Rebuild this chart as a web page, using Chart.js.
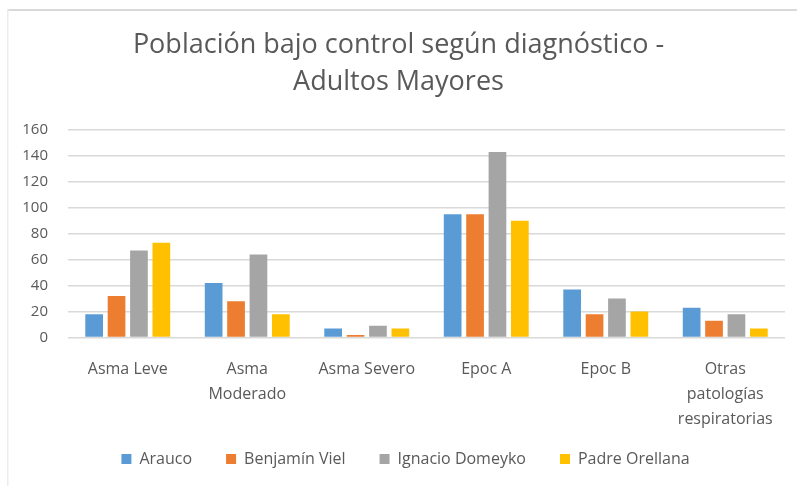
<!DOCTYPE html>
<html>
<head>
<meta charset="utf-8">
<script src="https://cdn.jsdelivr.net/npm/chart.js@4/dist/chart.umd.min.js"></script>
<style>
  html, body { margin: 0; padding: 0; background: #ffffff; }
  #wrap { width: 797px; height: 486px; position: relative; }
</style>
</head>
<body>
<div id="wrap"><canvas id="c" width="797" height="486"></canvas></div>
<script>
// Diagnoses (x axis) and patients under control per health centre
const categories = [
  ['Asma Leve'],
  ['Asma', 'Moderado'],
  ['Asma Severo'],
  ['Epoc A'],
  ['Epoc B'],
  ['Otras', 'patologías', 'respiratorias']
];
const arauco          = [18, 42, 7, 95, 37, 23];
const benjaminViel    = [32, 28, 2, 95, 18, 13];
const ignacioDomeyko  = [67, 64, 9, 143, 30, 18];
const padreOrellana   = [73, 18, 7, 90, 20, 7];
const yTicks = [0, 20, 40, 60, 80, 100, 120, 140, 160];

const FONT = '"Open Sans", Lato, sans-serif';
const TEXT = '#595959';

// Thin frame along the top and left edges of the chart
const framePlugin = {
  id: 'frame',
  beforeDraw(chart) {
    const ctx = chart.ctx;
    ctx.save();
    ctx.fillStyle = '#d9d9d9';
    ctx.fillRect(7, 9, chart.width - 7, 2);
    ctx.fillStyle = '#ececec';
    ctx.fillRect(7, 9, 1.5, chart.height - 9);
    ctx.restore();
  }
};

// Pull the legend row up a little, closer to the category labels
const legendLift = {
  id: 'legendLift',
  afterLayout(chart) {
    const lg = chart.legend;
    if (lg) {
      lg.top -= 15.5; lg.bottom -= 15.5;
      lg.left += 7; lg.right += 7;
    }
  }
};

new Chart(document.getElementById('c'), {
  type: 'bar',
  data: {
    labels: categories,
    datasets: [
      { label: 'Arauco',          data: arauco,         backgroundColor: '#5B9BD5' },
      { label: 'Benjamín Viel',   data: benjaminViel,   backgroundColor: '#ED7D31' },
      { label: 'Ignacio Domeyko', data: ignacioDomeyko, backgroundColor: '#A5A5A5' },
      { label: 'Padre Orellana',  data: padreOrellana,  backgroundColor: '#FFC000' }
    ]
  },
  plugins: [framePlugin, legendLift],
  options: {
    responsive: false,
    animation: false,
    devicePixelRatio: 1,
    layout: { padding: { left: 12, right: 12, top: 0, bottom: 0 } },
    datasets: { bar: { categoryPercentage: 0.75, barPercentage: 0.79 } },
    plugins: {
      title: {
        display: true,
        text: ['Población bajo control según diagnóstico -', 'Adultos Mayores'],
        color: TEXT,
        font: { family: FONT, size: 27, weight: 'normal', lineHeight: 1.37 },
        padding: { top: 26.5, bottom: 29.5 }
      },
      legend: {
        position: 'bottom',
        maxHeight: 53.5,
        labels: {
          color: TEXT,
          font: { family: FONT, size: 16 },
          boxWidth: 10,
          boxHeight: 10,
          padding: 34
        }
      },
      tooltip: { enabled: false }
    },
    scales: {
      x: {
        afterFit: (axis) => { axis.height = 95; },
        grid: { display: false, drawTicks: false },
        border: { display: false },
        ticks: {
          color: TEXT,
          font: { family: FONT, size: 16, lineHeight: 1.5625 },
          maxRotation: 0,
          autoSkip: false,
          padding: 19.5
        }
      },
      y: {
        min: 0,
        max: 160,
        afterBuildTicks: (axis) => { axis.ticks = yTicks.map(v => ({ value: v })); },
        afterFit: (axis) => { axis.width = 56; },
        grid: { color: '#d9d9d9', lineWidth: 1.5, drawTicks: false },
        border: { display: false },
        ticks: {
          color: TEXT,
          font: { family: FONT, size: 15 },
          padding: 20
        }
      }
    }
  }
});
</script>
</body>
</html>
